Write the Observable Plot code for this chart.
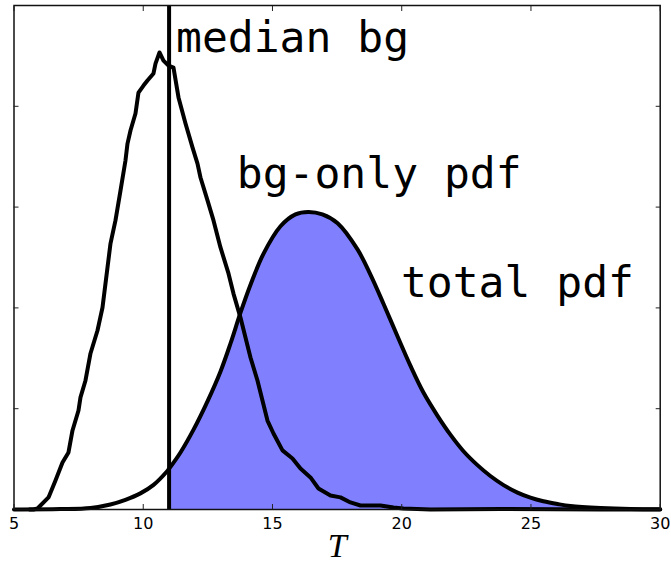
<!DOCTYPE html>
<html>
<head>
<meta charset="utf-8">
<script src="https://cdn.jsdelivr.net/npm/d3@7"></script>
<script src="https://cdn.jsdelivr.net/npm/@observablehq/plot@0.6"></script>
<style>
  html, body { margin: 0; padding: 0; background: #fff; }
  #chart svg { display: block; background: #fff; }
</style>
</head>
<body>
<div id="chart"></div>
<script>
// Background-only test statistic distribution (jagged histogram-like curve)
const bgT = [5.6, 5.754, 5.909, 6.335, 6.605, 6.876, 7.108, 7.263, 7.495, 7.572, 7.766, 7.959, 8.230, 8.424, 8.617, 8.733, 8.926, 9.120, 9.313, 9.391, 9.507, 9.700, 9.816, 10.010, 10.164, 10.397, 10.474, 10.629, 10.783, 10.977, 11.170, 11.364, 11.635, 11.905, 12.099, 12.215, 12.486, 12.718, 12.988, 13.298, 13.491, 13.762, 14.149, 14.419, 14.806, 15.039, 15.387, 15.774, 16.083, 16.470, 16.779, 17.244, 17.631, 18.017, 18.404, 19.178, 19.681, 20.068, 21.112, 23.820, 27.688, 30];
const bgPdf = [0, 0, 0.0005, 0.006, 0.0144, 0.0233, 0.0283, 0.0392, 0.0491, 0.0556, 0.0640, 0.0774, 0.0888, 0.1002, 0.1200, 0.1319, 0.1434, 0.1582, 0.1731, 0.1815, 0.1880, 0.1964, 0.2068, 0.2103, 0.2128, 0.2163, 0.2212, 0.2267, 0.2227, 0.2202, 0.2192, 0.2044, 0.1915, 0.1796, 0.1716, 0.1647, 0.1533, 0.1434, 0.1300, 0.1171, 0.1071, 0.0952, 0.0754, 0.0640, 0.0441, 0.0377, 0.0293, 0.0253, 0.0203, 0.0159, 0.0104, 0.0069, 0.0060, 0.0035, 0.0020, 0.0020, 0.0010, 0.0005, 0, 0.0003, 0, 0];

// Total (signal + background) pdf, smooth
const totT = [5.0, 6.8, 7.96, 8.73, 9.31, 9.89, 10.40, 10.94, 11.0, 11.44, 11.94, 12.49, 12.99, 13.38, 13.76, 14.15, 14.65, 15.31, 15.89, 16.39, 16.93, 17.52, 18.29, 18.79, 19.29, 19.84, 20.34, 20.84, 21.38, 21.89, 22.39, 22.93, 23.43, 23.94, 24.48, 24.98, 25.48, 26.03, 26.53, 27.69, 28.85, 30];
const totPdf = [0, 0.0002, 0.0008, 0.0025, 0.0048, 0.0080, 0.0122, 0.0192, 0.0202, 0.0283, 0.0395, 0.0538, 0.0685, 0.0825, 0.0975, 0.1115, 0.1268, 0.1405, 0.1464, 0.1476, 0.1464, 0.1420, 0.1290, 0.1165, 0.1022, 0.0858, 0.0712, 0.0580, 0.0466, 0.0370, 0.0289, 0.0220, 0.0166, 0.0121, 0.0084, 0.0059, 0.0041, 0.0027, 0.0017, 0.0007, 0.0002, 0.0001];

const medianBg = 11.0;

const xTicks = [5, 10, 15, 20, 25, 30];
const yTicks = [0.05, 0.10, 0.15, 0.20];

const labelText = ["median bg", "bg-only pdf", "total pdf"];
const labelX = [11.27, 13.62, 19.97];
const labelY = [0.2267, 0.1597, 0.1052];

const xLabel = "T";

// build tables
const bg = bgT.map((t, i) => ({t, pdf: bgPdf[i]}));
const tot = totT.map((t, i) => ({t, pdf: totPdf[i]}));
const labels = labelText.map((text, i) => ({text, x: labelX[i], y: labelY[i]}));

const chart = Plot.plot({
  width: 671,
  height: 563,
  marginLeft: 13.5,
  marginRight: 11.3,
  marginTop: 5,
  marginBottom: 54,
  style: {background: "#fff"},
  x: {domain: [5, 30]},
  y: {domain: [0, 0.25]},
  marks: [
    Plot.areaY(tot.filter(d => d.t >= medianBg), {x: "t", y: "pdf", fill: "#8080ff", curve: "catmull-rom"}),
    Plot.line(bg, {x: "t", y: "pdf", stroke: "#000", strokeWidth: 4, strokeLinejoin: "round"}),
    Plot.line(tot, {x: "t", y: "pdf", stroke: "#000", strokeWidth: 4, curve: "catmull-rom"}),
    Plot.ruleX([medianBg], {stroke: "#000", strokeWidth: 4}),
    Plot.text(labels, {x: "x", y: "y", text: "text", textAnchor: "start", lineAnchor: "bottom", fontSize: 43, fontFamily: "DejaVu Sans Mono", fill: "#000"}),
    Plot.frame({stroke: "#111", strokeWidth: 1.5}),
    Plot.axisX({anchor: "bottom", ticks: xTicks, tickSize: -5, tickFormat: () => "", stroke: "#222"}),
    Plot.axisX({anchor: "top", ticks: xTicks, tickSize: -5, tickFormat: () => "", stroke: "#222"}),
    Plot.axisY({anchor: "left", ticks: yTicks, tickSize: -5, tickFormat: () => "", stroke: "#222"}),
    Plot.axisY({anchor: "right", ticks: yTicks, tickSize: -5, tickFormat: () => "", stroke: "#222"}),
    Plot.axisX({anchor: "bottom", ticks: xTicks, tickSize: 0, tickPadding: 8, fontSize: 16, fontFamily: "DejaVu Sans", fill: "#000", label: null, tickFormat: d => String(d)}),
    Plot.text([xLabel], {frameAnchor: "bottom", dy: 47, lineAnchor: "bottom", textAnchor: "middle", fontSize: 34, fontStyle: "italic", fontFamily: "Liberation Serif", fill: "#000"})
  ]
});
document.getElementById("chart").append(chart);
</script>
</body>
</html>
